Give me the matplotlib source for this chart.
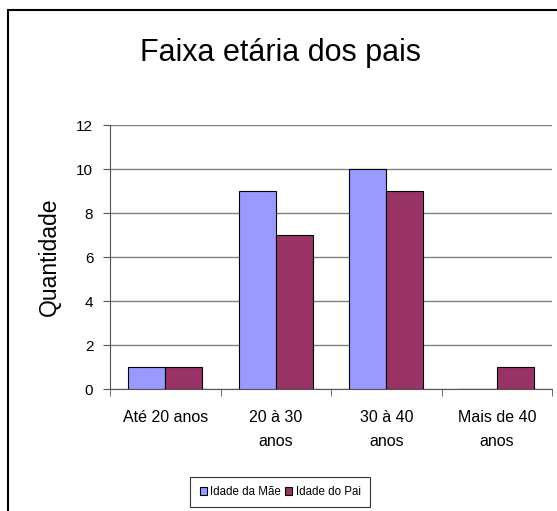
import matplotlib.pyplot as plt
from matplotlib.patches import Rectangle
import numpy as np

plt.rcParams['font.family'] = ['Liberation Sans', 'DejaVu Sans']

# data
categories = ['Até 20 anos', '20 à 30\nanos', '30 à 40\nanos', 'Mais de 40\nanos']
mae = [1, 9, 10, 0]
pai = [1, 7, 9, 1]

fig = plt.figure(figsize=(5.57, 5.11), dpi=100)
fig.patch.set_facecolor('white')

# outer chart frame (right and bottom run off the picture)
frame = Rectangle((8 / 557, -0.1), 1.2, 0.9804 + 0.1, transform=fig.transFigure,
                  fill=False, edgecolor='black', linewidth=1.5, clip_on=False)
fig.patches.append(frame)

ax = fig.add_axes([110 / 557, 122 / 511, 442 / 557, 264 / 511])

x = np.arange(len(categories))
w = 0.335
ax.bar(x - w / 2, mae, w, color='#9999FF', edgecolor='black', linewidth=0.8,
       label='Idade da Mãe', zorder=3)
ax.bar(x + w / 2, pai, w, color='#993366', edgecolor='black', linewidth=0.8,
       label='Idade do Pai', zorder=3)

ax.set_xlim(-0.5, len(categories) - 0.5)
ax.set_ylim(0, 12)
ax.set_yticks(range(0, 13, 2))
ax.yaxis.grid(True, color='#808080', linewidth=1.0)
ax.set_axisbelow(True)

ax.set_xticks(x)
ax.set_xticklabels(categories, fontsize=11.5, linespacing=1.75)
ax.set_xticks(np.arange(-0.5, len(categories), 1), minor=True)
ax.tick_params(axis='x', which='major', length=0, pad=15)
ax.tick_params(axis='x', which='minor', length=5, direction='out', color='#555555')
ax.tick_params(axis='y', length=5, direction='out', labelsize=11, pad=7, color='#555555')

for s in ['top', 'right']:
    ax.spines[s].set_visible(False)
ax.spines['left'].set_color('#555555')
ax.spines['bottom'].set_color('#555555')

ax.set_ylabel('Quantidade', fontsize=16.5, labelpad=11)
fig.text(0.503, 0.897, 'Faixa etária dos pais', fontsize=22, ha='center', va='center')

leg = fig.legend(loc='center', bbox_to_anchor=(0.503, 0.037), ncol=2, fontsize=8.3,
                 frameon=True, fancybox=False, edgecolor='black', handlelength=0.6,
                 handleheight=0.6, handletextpad=0.3, columnspacing=0.4,
                 borderpad=0.8, borderaxespad=0)
leg.get_frame().set_linewidth(0.8)

fig.savefig('out.png', dpi=100)
